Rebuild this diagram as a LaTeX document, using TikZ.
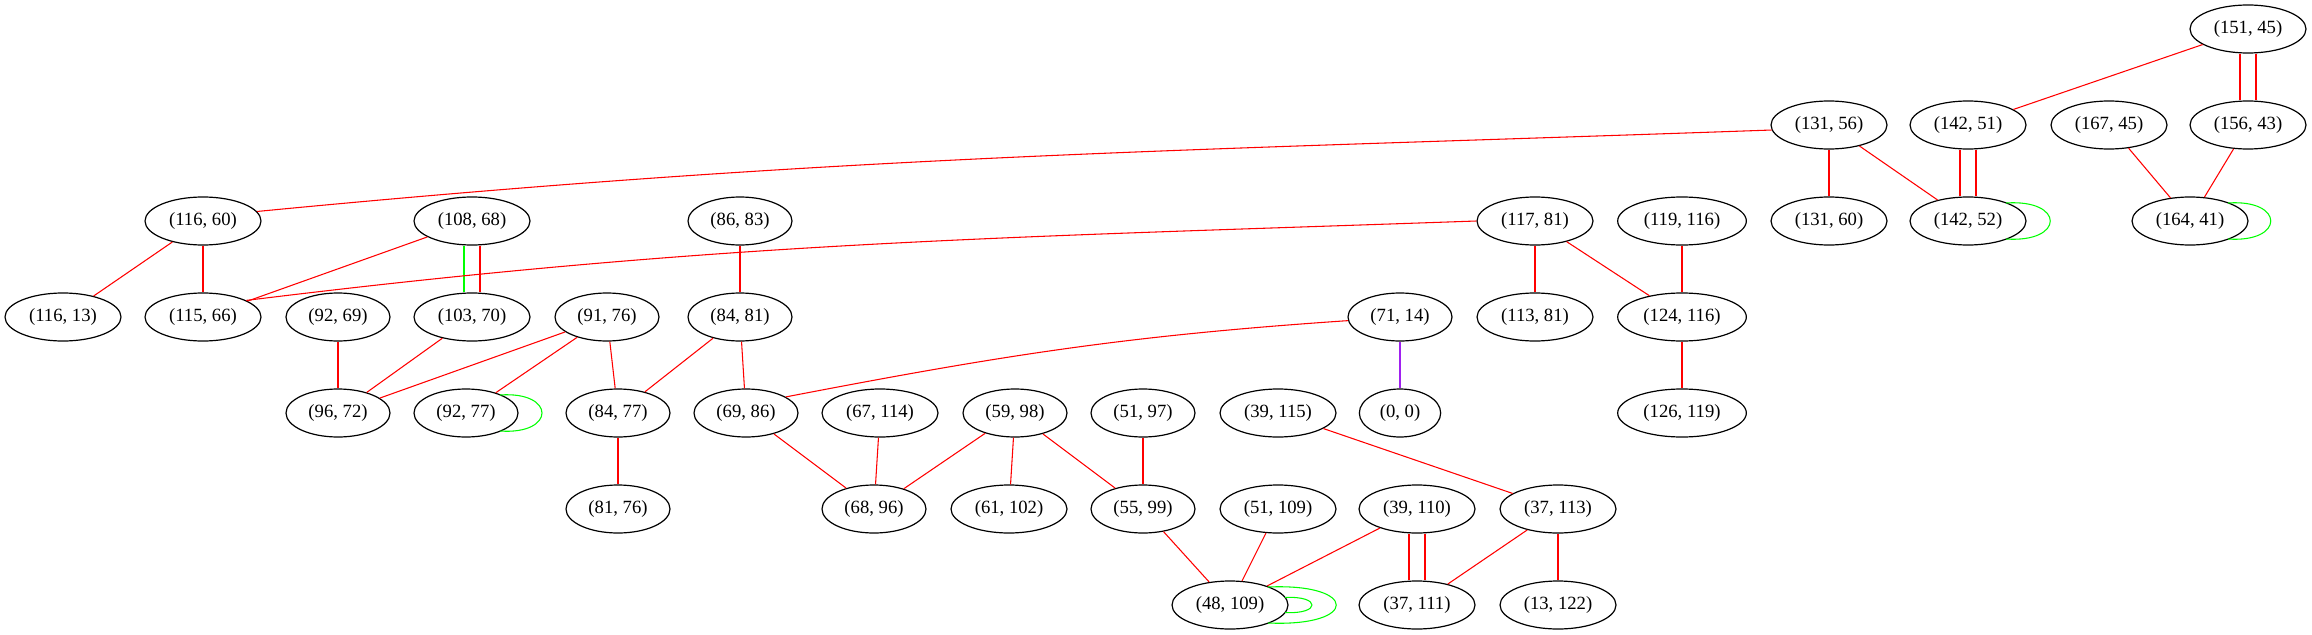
\documentclass[tikz,border=0pt]{standalone}
\usepackage{fontspec}
\setmainfont{Liberation Serif}
\usetikzlibrary{shapes.geometric}
\definecolor{gvred}{HTML}{FF0000}
\definecolor{gvgreen}{HTML}{00FF00}
\definecolor{gvpurple}{HTML}{A020F0}
\begin{document}
\begin{tikzpicture}[x=0.75pt,y=0.75pt,
  vtx/.style={draw,ellipse,line width=0.9pt,inner sep=0pt,minimum height=36pt,minimum width=78pt,font=\fontsize{14}{17}\selectfont},
  vtxm/.style={vtx,minimum width=87pt},
  vtxl/.style={vtx,minimum width=96.5pt},
  vtxs/.style={vtx,minimum width=61pt},
  rl/.style={gvred,line width=0.8pt},
  gl/.style={gvgreen,line width=0.8pt},
  pl/.style={gvpurple,line width=0.8pt}]
\useasboundingbox (0,0) rectangle (2312,-635);

\node[vtxm] (v151x45) at (2248,-29) {(151, 45)};

\node[vtxm] (v131x56) at (1829,-125) {(131, 56)};\node[vtxm] (v142x51) at (1968,-125) {(142, 51)};\node[vtxm] (v167x45) at (2109,-125) {(167, 45)};\node[vtxm] (v156x43) at (2248,-125) {(156, 43)};

\node[vtxm] (v116x60) at (203,-221) {(116, 60)};\node[vtxm] (v108x68) at (472,-221) {(108, 68)};\node[vtx] (v86x83) at (740,-221) {(86, 83)};
\node[vtxm] (v117x81) at (1535,-221) {(117, 81)};\node[vtxl] (v119x116) at (1682,-221) {(119, 116)};\node[vtxm] (v131x60) at (1829,-221) {(131, 60)};
\node[vtxm] (v142x52) at (1968,-221) {(142, 52)};\node[vtxm] (v164x41) at (2190,-221) {(164, 41)};

\node[vtxm] (v116x13) at (63,-317) {(116, 13)};\node[vtxm] (v115x66) at (203,-317) {(115, 66)};\node[vtx] (v92x69) at (338,-317) {(92, 69)};
\node[vtxm] (v103x70) at (472,-317) {(103, 70)};\node[vtx] (v91x76) at (607,-317) {(91, 76)};\node[vtx] (v84x81) at (740,-317) {(84, 81)};
\node[vtx] (v71x14) at (1400,-317) {(71, 14)};\node[vtxm] (v113x81) at (1535,-317) {(113, 81)};\node[vtxl] (v124x116) at (1682,-317) {(124, 116)};

\node[vtx] (v96x72) at (338,-413) {(96, 72)};\node[vtx] (v92x77) at (466,-413) {(92, 77)};\node[vtx] (v84x77) at (618,-413) {(84, 77)};
\node[vtx] (v69x86) at (746,-413) {(69, 86)};\node[vtxm] (v67x114) at (880,-413) {(67, 114)};\node[vtx] (v59x98) at (1015,-413) {(59, 98)};
\node[vtx] (v51x97) at (1143,-413) {(51, 97)};\node[vtxm] (v39x115) at (1278,-413) {(39, 115)};\node[vtxs] (v0x0) at (1400,-413) {(0, 0)};
\node[vtxl] (v126x119) at (1682,-413) {(126, 119)};

\node[vtx] (v81x76) at (618,-509) {(81, 76)};\node[vtx] (v68x96) at (874,-509) {(68, 96)};\node[vtxm] (v61x102) at (1009,-509) {(61, 102)};
\node[vtx] (v55x99) at (1143,-509) {(55, 99)};\node[vtxm] (v51x109) at (1278,-509) {(51, 109)};\node[vtxm] (v39x110) at (1417,-509) {(39, 110)};
\node[vtxm] (v37x113) at (1558,-509) {(37, 113)};

\node[vtxm] (v48x109) at (1230,-605) {(48, 109)};\node[vtxm] (v37x111) at (1417,-605) {(37, 111)};\node[vtxm] (v13x122) at (1558,-605) {(13, 122)};

%right part
\draw[rl] (v151x45) -- (v142x51);
\draw[rl] ([xshift=-6pt]v151x45.south) -- ([xshift=-6pt]v156x43.north);\draw[rl] ([xshift=6pt]v151x45.south) -- ([xshift=6pt]v156x43.north);
\draw[rl] (v116x60.10) .. controls +(590,57) and +(-593,-21) .. (v131x56.185);
\draw[rl] (v131x56) -- (v131x60);\draw[rl] (v131x56) -- (v142x52);
\draw[rl] ([xshift=-6pt]v142x51.south) -- ([xshift=-6pt]v142x52.north);\draw[rl] ([xshift=6pt]v142x51.south) -- ([xshift=6pt]v142x52.north);
\draw[rl] (v167x45) -- (v164x41);\draw[rl] (v156x43) -- (v164x41);
\draw[rl] (v117x81) -- (v113x81);\draw[rl] (v117x81) -- (v124x116);\draw[rl] (v119x116) -- (v124x116);\draw[rl] (v124x116) -- (v126x119);

\draw[gl] ([shift={(38,18)}]v142x52.center) .. controls +(59,4) and +(59,-4) .. ([shift={(38,-18)}]v142x52.center);
\draw[gl] ([shift={(38,18)}]v164x41.center) .. controls +(57,4) and +(57,-4) .. ([shift={(38,-18)}]v164x41.center);

%left part
\draw[rl] (v116x60) -- (v116x13);\draw[rl] (v116x60) -- (v115x66);\draw[rl] (v108x68) -- (v115x66);
\draw[gl] ([xshift=-6pt]v108x68.south) -- ([xshift=-6pt]v103x70.north);\draw[rl] ([xshift=6pt]v108x68.south) -- ([xshift=6pt]v103x70.north);
\draw[rl] (v115x66.21) .. controls +(478,59) and +(-482,-17) .. (v117x81.west);
\draw[rl] (v86x83) -- (v84x81);
\draw[rl] (v92x69) -- (v96x72);\draw[rl] (v103x70) -- (v96x72);\draw[rl] (v91x76) -- (v96x72);
\draw[rl] (v91x76) -- (v92x77);\draw[rl] (v91x76) -- (v84x77);\draw[rl] (v84x81) -- (v84x77);\draw[rl] (v84x81) -- (v69x86);
\draw[rl] (v84x77) -- (v81x76);
\draw[gl] ([shift={(34,18)}]v92x77.center) .. controls +(56,4) and +(56,-4) .. ([shift={(34,-18)}]v92x77.center);

%middle
\draw[rl] (v69x86.22) .. controls +(218,42) and +(-221,-15) .. (v71x14.184);
\draw[pl] (v71x14) -- (v0x0);
\draw[rl] (v69x86) -- (v68x96);\draw[rl] (v67x114) -- (v68x96);\draw[rl] (v59x98) -- (v68x96);
\draw[rl] (v59x98) -- (v61x102);\draw[rl] (v59x98) -- (v55x99);\draw[rl] (v51x97) -- (v55x99);
\draw[rl] (v39x115) -- (v37x113);
\draw[rl] (v55x99) -- (v48x109);\draw[rl] (v51x109) -- (v48x109);\draw[rl] (v39x110) -- (v48x109);
\draw[rl] ([xshift=-6pt]v39x110.south) -- ([xshift=-6pt]v37x111.north);\draw[rl] ([xshift=6pt]v39x110.south) -- ([xshift=6pt]v37x111.north);
\draw[rl] (v37x113) -- (v37x111);\draw[rl] (v37x113) -- (v13x122);

\draw[gl] ([shift={(55,7.5)}]v48x109.center) .. controls +(36,2) and +(36,-2) .. ([shift={(55,-7.5)}]v48x109.center);
\draw[gl] ([shift={(38,18)}]v48x109.center) .. controls +(91,4) and +(91,-4) .. ([shift={(38,-18)}]v48x109.center);

\end{tikzpicture}
\end{document}
